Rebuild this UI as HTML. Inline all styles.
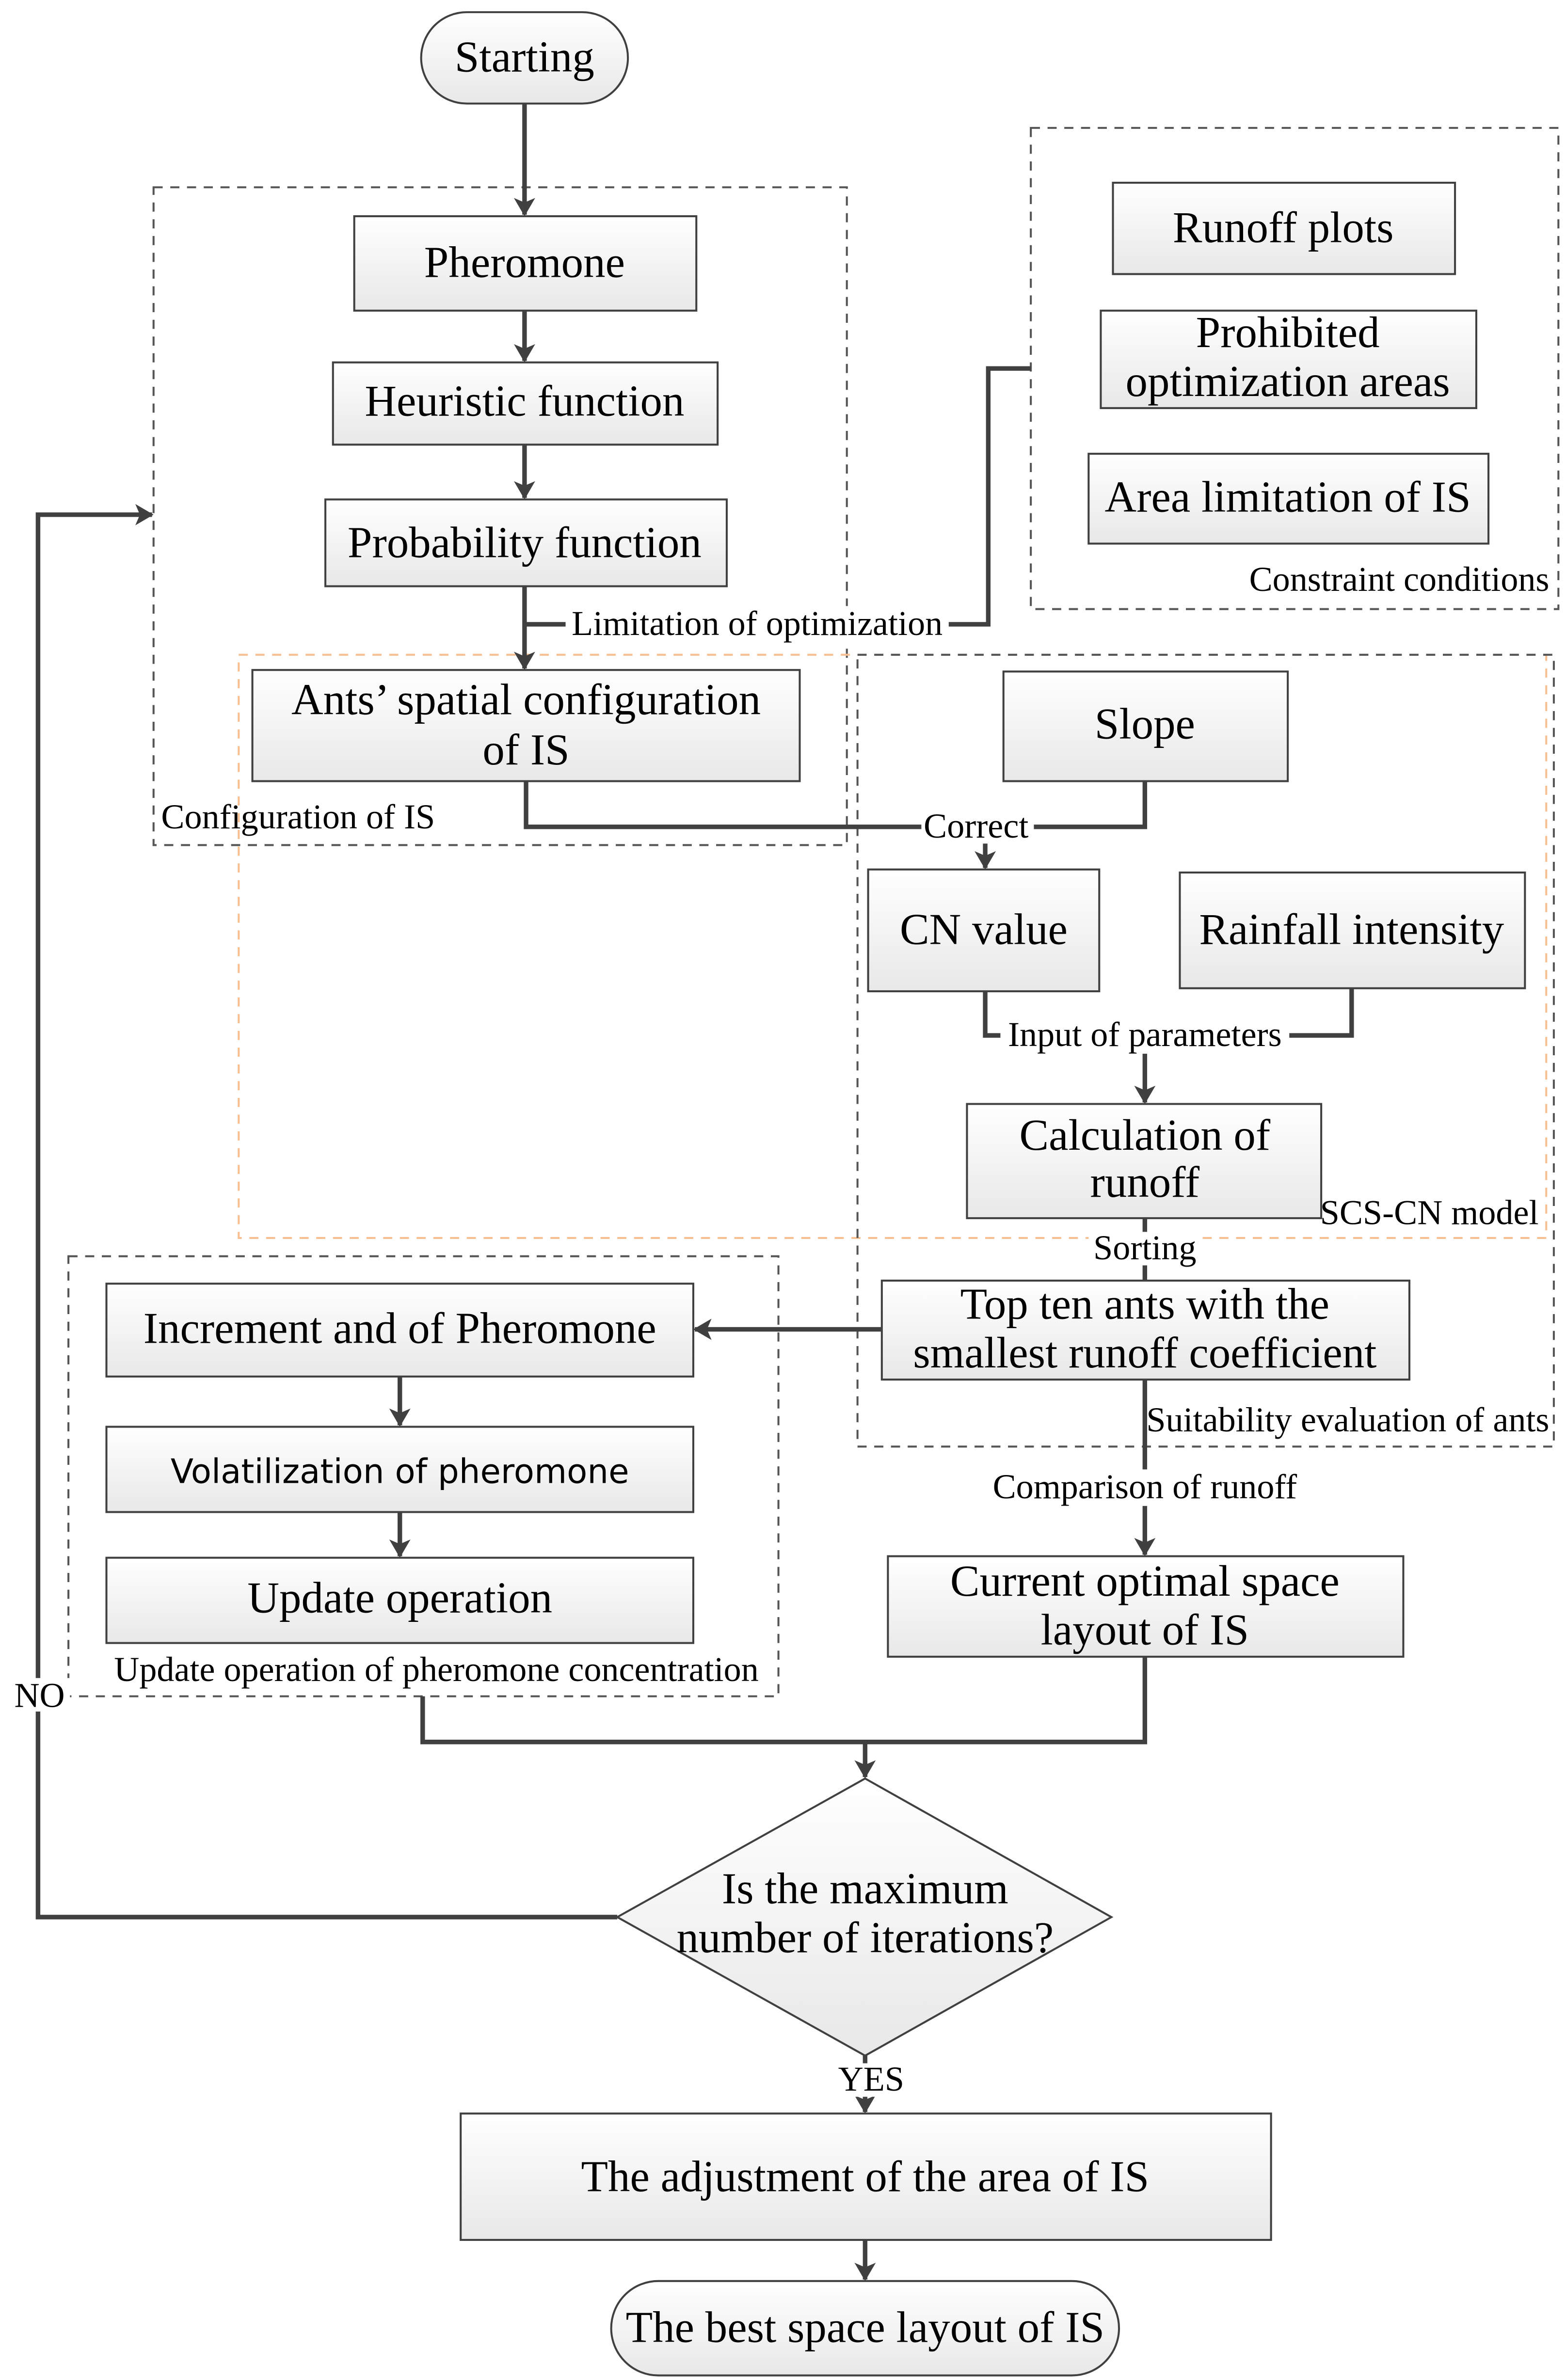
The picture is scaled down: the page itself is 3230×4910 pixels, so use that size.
<!DOCTYPE html>
<html><head><meta charset="utf-8"><style>html,body{margin:0;padding:0;background:#fff}svg{display:block}</style></head>
<body>
<svg width="3230" height="4910" viewBox="0 0 1030 1563" preserveAspectRatio="none" xmlns="http://www.w3.org/2000/svg" font-family="'Liberation Serif',serif">
<defs>
<linearGradient id="g" x1="0" y1="0" x2="0" y2="1"><stop offset="0" stop-color="#ffffff"/><stop offset="1" stop-color="#e8e8e8"/></linearGradient>
<marker id="a" markerWidth="12" markerHeight="14" refX="11" refY="7" orient="auto" markerUnits="userSpaceOnUse"><path d="M0,0 L12,7 L0,14 L3,7 Z" fill="#404040"/></marker>
</defs>
<g fill="none" stroke-dasharray="6,5" stroke-width="1.3">
<rect x="101" y="123" width="456" height="432" stroke="#555"/>
<rect x="678" y="84" width="347" height="316" stroke="#555"/>
<rect x="157" y="430" width="860" height="383" stroke="#f8c090"/>
<rect x="564" y="430" width="458" height="520" stroke="#555"/>
<rect x="45" y="825" width="467" height="289" stroke="#555"/>
</g>
<g fill="url(#g)" stroke="#404040" stroke-width="1.3">
<rect x="277" y="8" width="136" height="60" rx="30"/>
<rect x="233" y="142" width="225" height="62"/>
<rect x="219" y="238" width="253" height="54"/>
<rect x="214" y="328" width="264" height="57"/>
<rect x="166" y="440" width="360" height="73"/>
<rect x="732" y="120" width="225" height="60"/>
<rect x="724" y="204" width="247" height="64"/>
<rect x="716" y="298" width="263" height="59"/>
<rect x="660" y="441" width="187" height="72"/>
<rect x="571" y="571" width="152" height="80"/>
<rect x="776" y="573" width="227" height="76"/>
<rect x="636" y="725" width="233" height="75"/>
<rect x="580" y="841" width="347" height="65"/>
<rect x="70" y="843" width="386" height="61"/>
<rect x="70" y="937" width="386" height="56"/>
<rect x="70" y="1023" width="386" height="56"/>
<rect x="584" y="1022" width="339" height="66"/>
<polygon points="569,1168 731,1259 569,1350 406,1259"/>
<rect x="303" y="1388" width="533" height="83"/>
<rect x="402" y="1498" width="334" height="62" rx="31"/>
</g>
<g fill="none" stroke="#404040" stroke-width="3">
<path d="M345,68 V141" marker-end="url(#a)"/>
<path d="M345,204 V237" marker-end="url(#a)"/>
<path d="M345,292 V327" marker-end="url(#a)"/>
<path d="M345,385 V439" marker-end="url(#a)"/>
<path d="M678,242 H650 V410 H346"/>
<path d="M753,513 V543 H346 V513"/>
<path d="M648,543 V570" marker-end="url(#a)"/>
<path d="M648,651 V680 H889 V649"/>
<path d="M753,680 V724" marker-end="url(#a)"/>
<path d="M753,800 V841"/>
<path d="M580,873 H457" marker-end="url(#a)"/>
<path d="M263,904 V936" marker-end="url(#a)"/>
<path d="M263,993 V1022" marker-end="url(#a)"/>
<path d="M753,906 V1021" marker-end="url(#a)"/>
<path d="M278,1114 V1144 H753 V1088"/>
<path d="M569,1144 V1167" marker-end="url(#a)"/>
<path d="M406,1259 H25 V338 H100" marker-end="url(#a)"/>
<path d="M569,1350 V1387" marker-end="url(#a)"/>
<path d="M569,1471 V1497" marker-end="url(#a)"/>
</g>
<g fill="#fff">
<rect x="372" y="398" width="252" height="24"/>
<rect x="606" y="532" width="74" height="22"/>
<rect x="658" y="668" width="190" height="24"/>
<rect x="716" y="809" width="74" height="22"/>
<rect x="650" y="965" width="206" height="24"/>
<rect x="6" y="1102" width="40" height="22"/>
<rect x="551" y="1355" width="44" height="22"/>
</g>
<g font-size="29" text-anchor="middle" fill="#000">
<text x="345" y="182">Pheromone</text>
<text x="345" y="273">Heuristic function</text>
<text x="345" y="366">Probability function</text>
<text x="346" y="469">Ants’   spatial configuration</text>
<text x="346" y="502">of IS</text>
<text x="844" y="159">Runoff plots</text>
<text x="847" y="228">Prohibited</text>
<text x="847" y="260">optimization areas</text>
<text x="847" y="336">Area limitation of IS</text>
<text x="753" y="485">Slope</text>
<text x="647" y="620">CN value</text>
<text x="889" y="620">Rainfall intensity</text>
<text x="753" y="755">Calculation of</text>
<text x="753" y="786">runoff</text>
<text x="753" y="866">Top ten ants with the</text>
<text x="753" y="898">smallest runoff coefficient</text>
<text x="263" y="882">Increment and  of Pheromone</text>
<text x="263" y="974" font-family="'DejaVu Sans','Liberation Sans',sans-serif" font-size="22">Volatilization of pheromone</text>
<text x="263" y="1059">Update operation</text>
<text x="753" y="1048">Current optimal space</text>
<text x="753" y="1080">layout of IS</text>
<text x="569" y="1250">Is the maximum</text>
<text x="569" y="1282">number of iterations?</text>
<text x="569" y="1439">The adjustment of the area of IS</text>
<text x="569" y="1538">The best space layout of IS</text>
<text x="345" y="47">Starting</text>
</g>
<g font-size="23" fill="#000">
<text x="498" y="417" text-anchor="middle">Limitation of optimization</text>
<text x="1019" y="388" text-anchor="end">Constraint conditions</text>
<text x="106" y="544">Configuration of IS</text>
<text x="642" y="550" text-anchor="middle">Correct</text>
<text x="753" y="687" text-anchor="middle">Input of parameters</text>
<text x="1012" y="804" text-anchor="end">SCS-CN model</text>
<text x="753" y="827" text-anchor="middle">Sorting</text>
<text x="1019" y="940" text-anchor="end">Suitability evaluation of ants</text>
<text x="753" y="984" text-anchor="middle">Comparison of runoff</text>
<text x="287" y="1104" text-anchor="middle">Update operation of pheromone concentration</text>
<text x="26" y="1121" text-anchor="middle">NO</text>
<text x="573" y="1373" text-anchor="middle">YES</text>
</g>
</svg>
</body></html>
